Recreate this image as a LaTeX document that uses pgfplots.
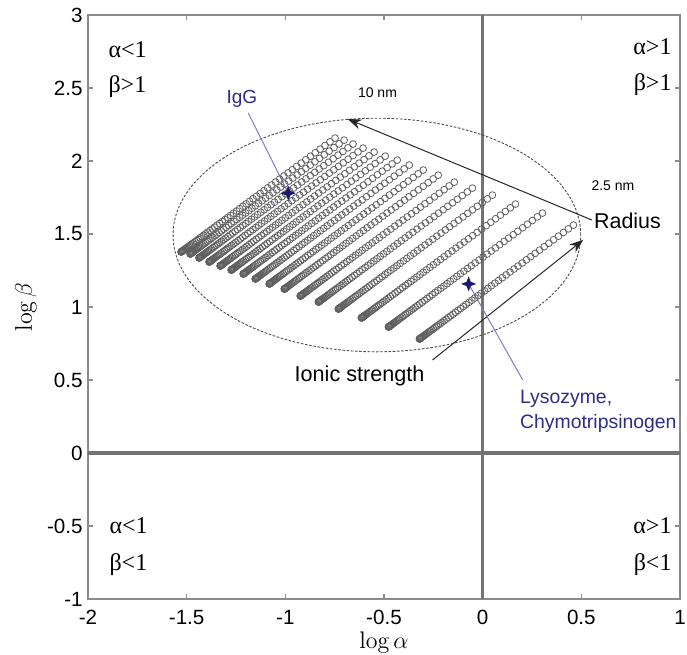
\documentclass[border=0pt]{standalone}
\usepackage{fontspec}
\usepackage{pgfplots}
\pgfplotsset{compat=1.18}
\usepackage{pgfplotstable}
\usetikzlibrary{arrows.meta}
\newfontfamily\sansf{Liberation Sans}
\newfontfamily\seriff{Liberation Serif}
\definecolor{axgray}{RGB}{140,140,140}
\definecolor{zerogray}{RGB}{115,115,115}
\definecolor{ringgray}{RGB}{95,95,95}
\definecolor{navytext}{RGB}{45,45,135}
\definecolor{linkblue}{RGB}{125,125,205}
\definecolor{starblue}{RGB}{25,25,110}

\pgfdeclareplotmark{fourstar}{%
 \pgfpathmoveto{\pgfqpoint{0pt}{\pgfplotmarksize}}%
 \pgfpathlineto{\pgfqpoint{0.28\pgfplotmarksize}{0.28\pgfplotmarksize}}%
 \pgfpathlineto{\pgfqpoint{\pgfplotmarksize}{0pt}}%
 \pgfpathlineto{\pgfqpoint{0.28\pgfplotmarksize}{-0.28\pgfplotmarksize}}%
 \pgfpathlineto{\pgfqpoint{0pt}{-\pgfplotmarksize}}%
 \pgfpathlineto{\pgfqpoint{-0.28\pgfplotmarksize}{-0.28\pgfplotmarksize}}%
 \pgfpathlineto{\pgfqpoint{-\pgfplotmarksize}{0pt}}%
 \pgfpathlineto{\pgfqpoint{-0.28\pgfplotmarksize}{0.28\pgfplotmarksize}}%
 \pgfpathclose
 \pgfusepathqfillstroke}

% offsets along each line (same step in log alpha and log beta)
\pgfplotstableread{
u v
0 0
0.0002 0.0002
0.0009 0.0009
0.0020 0.0020
0.0035 0.0035
0.0054 0.0054
0.0078 0.0078
0.0106 0.0106
0.0139 0.0139
0.0176 0.0176
0.0217 0.0217
0.0262 0.0262
0.0312 0.0312
0.0366 0.0366
0.0425 0.0425
0.0488 0.0488
0.0555 0.0555
0.0626 0.0626
0.0702 0.0702
0.0782 0.0782
0.0867 0.0867
0.0956 0.0956
0.1049 0.1049
0.1146 0.1146
0.1248 0.1248
0.1354 0.1354
0.1465 0.1465
0.1580 0.1580
0.1699 0.1699
0.1822 0.1822
0.1950 0.1950
0.2082 0.2082
0.2219 0.2219
0.2360 0.2360
0.2505 0.2505
0.2654 0.2654
0.2808 0.2808
0.2966 0.2966
0.3129 0.3129
0.3296 0.3296
0.3467 0.3467
0.3642 0.3642
0.3822 0.3822
0.4006 0.4006
0.4195 0.4195
0.4388 0.4388
0.4585 0.4585
0.4786 0.4786
0.4992 0.4992
0.5202 0.5202
0.5417 0.5417
0.5636 0.5636
0.5859 0.5859
0.6086 0.6086
0.6318 0.6318
0.6554 0.6554
0.6795 0.6795
0.7040 0.7040
0.7289 0.7289
0.7542 0.7542
0.7800 0.7800
}\offs

\begin{document}
\begin{tikzpicture}
\begin{axis}[
  scale only axis, width=296pt, height=292pt,
  xmin=-2, xmax=1, ymin=-1, ymax=3,
  xtick={-2,-1.5,-1,-0.5,0,0.5,1},
  xticklabels={-2,-1.5,-1,-0.5,0,0.5,1},
  ytick={-1,-0.5,0,0.5,1,1.5,2,2.5,3},
  yticklabels={-1,-0.5,0,0.5,1,1.5,2,2.5,3},
  tick label style={font=\sansf\fontsize{10.3}{12}\selectfont, inner sep=0pt},
  xticklabel style={yshift=-5.5pt},
  yticklabel style={xshift=-2.5pt},
  axis line style={axgray, line width=0.8pt},
  major tick style={axgray, line width=0.6pt},
  major tick length=2.5pt,
  tick align=inside,
  clip=false,
  ring/.style={only marks, mark=o, mark size=1.7pt, mark options={draw=ringgray, line width=0.4pt}},
]
\path ([shift={(-44pt,-28pt)}]rel axis cs:0,0) rectangle ([shift={(3.5pt,7.5pt)}]rel axis cs:1,1);

\addplot[ring] table[x expr=\thisrow{u}-1.528, y expr=\thisrow{v}+1.377]{\offs};
\addplot[ring] table[x expr=\thisrow{u}-1.482, y expr=\thisrow{v}+1.363]{\offs};
\addplot[ring] table[x expr=\thisrow{u}-1.437, y expr=\thisrow{v}+1.336]{\offs};
\addplot[ring] table[x expr=\thisrow{u}-1.386, y expr=\thisrow{v}+1.308]{\offs};
\addplot[ring] table[x expr=\thisrow{u}-1.330, y expr=\thisrow{v}+1.281]{\offs};
\addplot[ring] table[x expr=\thisrow{u}-1.274, y expr=\thisrow{v}+1.253]{\offs};
\addplot[ring] table[x expr=\thisrow{u}-1.213, y expr=\thisrow{v}+1.226]{\offs};
\addplot[ring] table[x expr=\thisrow{u}-1.152, y expr=\thisrow{v}+1.192]{\offs};
\addplot[ring] table[x expr=\thisrow{u}-1.081, y expr=\thisrow{v}+1.158]{\offs};
\addplot[ring] table[x expr=\thisrow{u}-1.005, y expr=\thisrow{v}+1.123]{\offs};
\addplot[ring] table[x expr=\thisrow{u}-0.924, y expr=\thisrow{v}+1.075]{\offs};
\addplot[ring] table[x expr=\thisrow{u}-0.832, y expr=\thisrow{v}+1.034]{\offs};
\addplot[ring] table[x expr=\thisrow{u}-0.731, y expr=\thisrow{v}+0.986]{\offs};
\addplot[ring] table[x expr=\thisrow{u}-0.614, y expr=\thisrow{v}+0.925]{\offs};
\addplot[ring] table[x expr=\thisrow{u}-0.477, y expr=\thisrow{v}+0.863]{\offs};
\addplot[ring] table[x expr=\thisrow{u}-0.320, y expr=\thisrow{v}+0.781]{\offs};

% zero lines
\draw[zerogray, line width=1.6pt] (axis cs:0,-1) -- (axis cs:0,3);
\draw[zerogray, line width=1.6pt] (axis cs:-2,0) -- (axis cs:1,0);

% ellipse
\draw[black!70, line width=0.45pt, dash pattern=on 1.3pt off 0.8pt] (axis cs:-0.536,1.493) ellipse [x radius=1.033, y radius=0.80];

% arrows
\draw[black!85, line width=0.5pt, -{Stealth[length=7pt,width=5pt]}] (axis cs:0.553,1.596) -- (axis cs:-0.685,2.288);
\draw[black!85, line width=0.5pt, -{Stealth[length=7pt,width=5pt]}] (axis cs:-0.254,0.637) -- (axis cs:0.51,1.46);

% blue links and stars
\draw[linkblue, line width=0.5pt] (axis cs:-1.188,2.329) -- (axis cs:-0.985,1.78);
\draw[linkblue, line width=0.5pt] (axis cs:-0.071,1.158) -- (axis cs:0.203,0.50);
\addplot[only marks, mark=fourstar, mark size=3.2pt, color=starblue] coordinates {(-0.985,1.78) (-0.071,1.158)};

% annotations
\node[font=\sansf\fontsize{7}{8}\selectfont, inner sep=0pt] at (axis cs:-0.533,2.466) {10 nm};
\node[font=\sansf\fontsize{7}{8}\selectfont, inner sep=0pt] at (axis cs:0.66,1.829) {2.5 nm};
\node[font=\sansf\fontsize{10.7}{12}\selectfont, inner sep=0pt, anchor=west] at (axis cs:0.563,1.59) {Radius};
\node[font=\sansf\fontsize{10.8}{12}\selectfont, inner sep=0pt, anchor=base] at (axis cs:-0.624,0.493) {Ionic strength};
\node[font=\sansf\fontsize{9.5}{11}\selectfont, inner sep=0pt, anchor=base west, text=navytext] at (axis cs:-1.30,2.397) {IgG};
\node[font=\sansf\fontsize{9.7}{11}\selectfont, inner sep=0pt, anchor=base west, text=navytext] at (axis cs:0.188,0.342) {Lysozyme,};
\node[font=\sansf\fontsize{9.7}{11}\selectfont, inner sep=0pt, anchor=base west, text=navytext] at (axis cs:0.188,0.171) {Chymotripsinogen};

% quadrant labels
\node[font=\seriff\fontsize{12}{14}\selectfont, inner sep=0pt, anchor=base west] at (axis cs:-1.898,2.712) {α<1};
\node[font=\seriff\fontsize{12}{14}\selectfont, inner sep=0pt, anchor=base west] at (axis cs:-1.898,2.466) {β>1};
\node[font=\seriff\fontsize{12}{14}\selectfont, inner sep=0pt, anchor=base east] at (axis cs:0.959,2.726) {α>1};
\node[font=\seriff\fontsize{12}{14}\selectfont, inner sep=0pt, anchor=base east] at (axis cs:0.959,2.486) {β>1};
\node[font=\seriff\fontsize{12}{14}\selectfont, inner sep=0pt, anchor=base west] at (axis cs:-1.893,-0.551) {α<1};
\node[font=\seriff\fontsize{12}{14}\selectfont, inner sep=0pt, anchor=base west] at (axis cs:-1.893,-0.805) {β<1};
\node[font=\seriff\fontsize{12}{14}\selectfont, inner sep=0pt, anchor=base east] at (axis cs:0.959,-0.551) {α>1};
\node[font=\seriff\fontsize{12}{14}\selectfont, inner sep=0pt, anchor=base east] at (axis cs:0.959,-0.805) {β<1};

% axis labels
\node[font=\fontsize{12}{14}\selectfont, inner sep=0pt, anchor=base] at ([yshift=-25pt]rel axis cs:0.5,0) {$\log\alpha$};
\node[font=\fontsize{12}{14}\selectfont, inner sep=0pt, anchor=base, rotate=90] at ([xshift=-28pt]rel axis cs:0,0.5) {$\log\beta$};
\end{axis}
\end{tikzpicture}
\end{document}
